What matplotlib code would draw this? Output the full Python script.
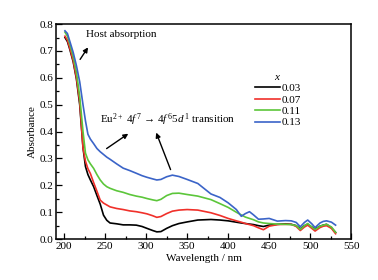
import matplotlib
matplotlib.use("Agg")
from matplotlib import pyplot as plt
from matplotlib.ticker import MultipleLocator

plt.rcParams['font.family'] = ['Liberation Serif', 'DejaVu Serif']
plt.rcParams['mathtext.fontset'] = 'custom'
plt.rcParams['mathtext.rm'] = 'Liberation Serif'
plt.rcParams['mathtext.it'] = 'Liberation Serif:italic'

# wavelength grid (nm)
wavelength = [201, 204, 207, 211, 215, 219, 223, 226, 229, 232, 236, 240, 244, 248, 252, 256,
              264, 272, 280, 288, 295, 301, 308, 313, 318, 325, 332, 340, 350, 363, 379, 390,
              400, 410, 416, 421, 426, 431, 437, 443, 450, 460, 470, 477, 483, 488, 493, 497,
              502, 506, 512, 516, 520, 526, 531]

abs_003 = [.75, .735, .705, .66, .595, .50, .34, .27, .24, .22, .195, .162, .13, .089, .07, .06,
           .057, .053, .053, .052, .047, .04, .032, .027, .028, .04, .05, .058, .064, .071, .073, .071,
           .068, .063, .06, .058, .056, .054, .05, .047, .052, .055, .057, .055, .05, .038, .05, .055,
           .045, .038, .048, .052, .055, .042, .025]
abs_007 = [.755, .74, .71, .665, .60, .51, .34, .29, .262, .244, .21, .178, .145, .134, .127, .12,
           .114, .11, .105, .102, .098, .094, .087, .081, .084, .095, .104, .108, .11, .108, .098, .088,
           .077, .068, .063, .058, .054, .05, .042, .035, .048, .054, .055, .055, .047, .032, .045, .052,
           .04, .03, .043, .048, .05, .04, .02]
abs_011 = [.77, .755, .725, .68, .62, .53, .40, .32, .295, .28, .263, .24, .22, .205, .195, .189,
           .18, .174, .166, .16, .156, .151, .146, .143, .148, .162, .17, .171, .166, .16, .147, .132,
           .118, .1, .09, .082, .077, .072, .064, .06, .058, .056, .055, .054, .05, .036, .05, .058,
           .045, .036, .048, .052, .055, .045, .025]
abs_013 = [.775, .765, .735, .695, .645, .585, .50, .44, .39, .372, .355, .337, .325, .315, .305, .297,
           .28, .264, .255, .245, .236, .23, .224, .22, .222, .232, .238, .233, .222, .207, .168, .155,
           .135, .11, .085, .095, .102, .09, .074, .075, .077, .067, .069, .068, .062, .046, .062, .071,
           .057, .043, .06, .066, .068, .063, .052]

labels = ['0.03', '0.07', '0.11', '0.13']
colors = ['black', '#f0302a', '#5cc63a', '#3b64c8']

fig = plt.figure(figsize=(3.78, 2.8), dpi=100)
ax = fig.add_axes([0.148, 0.146, 0.781, 0.768])

for y, lab, c in zip([abs_003, abs_007, abs_011, abs_013], labels, colors):
    ax.plot(wavelength, y, color=c, lw=1.2, label=lab)

ax.set_xlim(190, 550)
ax.set_ylim(0, 0.8)
ax.xaxis.set_major_locator(MultipleLocator(50))
ax.xaxis.set_minor_locator(MultipleLocator(25))
ax.yaxis.set_major_locator(MultipleLocator(0.1))
ax.yaxis.set_minor_locator(MultipleLocator(0.05))
ax.yaxis.set_major_formatter(plt.FormatStrFormatter('%.1f'))
ax.tick_params(which='both', direction='in', top=False, right=False, labelsize=8, width=0.9)
ax.tick_params(which='major', length=4, pad=2)
ax.tick_params(which='minor', length=2)
for s in ax.spines.values():
    s.set_linewidth(1.1)

ax.set_xlabel('Wavelength / nm', fontsize=8, labelpad=2)
ax.set_ylabel('Absorbance', fontsize=8, labelpad=2)

leg = ax.legend(title='$x$', fontsize=8, title_fontsize=8, frameon=False,
                loc='upper right', bbox_to_anchor=(0.855, 0.81), handlelength=2.3,
                handletextpad=0.1, labelspacing=0.15, borderpad=0.2)

arrow = dict(arrowstyle='-|>', color='black', lw=1.0, mutation_scale=7)
# host absorption label and arrow
ax.annotate('', xy=(231, 0.722), xytext=(217.6, 0.66), arrowprops=arrow)
ax.text(227, 0.762, 'Host absorption', fontsize=8, va='center')
# Eu2+ transition label and its two arrows
ax.annotate('', xy=(281, 0.398), xytext=(249, 0.331), arrowprops=arrow)
ax.annotate('', xy=(311, 0.406), xytext=(331, 0.249), arrowprops=arrow)
ax.text(244, 0.443, 'Eu$^{2+}$ 4$f^{\\,7}$ \u2192 4$f^{\\,6}$5$d^{\\,1}$ transition',
        fontsize=8, va='center')

fig.savefig('out.png', dpi=100)
